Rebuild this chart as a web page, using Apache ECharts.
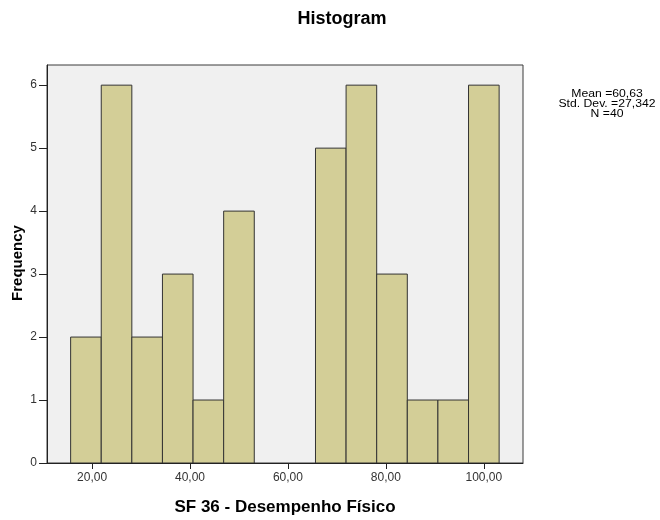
<!DOCTYPE html>
<html>
<head>
<meta charset="utf-8">
<script src="https://cdn.jsdelivr.net/npm/echarts@6/dist/echarts.min.js"></script>
<style>
  html, body { margin: 0; padding: 0; background: #fff; }
  #chart { width: 660px; height: 520px; }
</style>
</head>
<body>
<div id="chart"></div>
<script>
// Histogram bins: centre of each bin and its count
const binCenters = [18.75, 25, 31.25, 37.5, 43.75, 50, 56.25, 62.5, 68.75, 75, 81.25, 87.5, 93.75, 100];
const binWidth = 6.25;
const frequencies = [2, 6, 2, 3, 1, 4, 0, 0, 5, 6, 3, 1, 1, 6];

const xTicks = [20, 40, 60, 80, 100];
const yTicks = [0, 1, 2, 3, 4, 5, 6];
const statsLines = ['Mean =60,63', 'Std. Dev. =27,342', 'N =40'];

const FONT = '"Liberation Sans", Arial, sans-serif';

// [low edge, high edge, count] for non-empty bins
const barData = [];
binCenters.forEach((c, i) => {
  if (frequencies[i] > 0) {
    barData.push([c - binWidth / 2, c + binWidth / 2, frequencies[i]]);
  }
});

const fmt = v => v.toFixed(2).replace('.', ',');

const chart = echarts.init(document.getElementById('chart'), null, { renderer: 'canvas' });

chart.setOption({
  animation: false,
  backgroundColor: '#ffffff',
  graphic: [
    {
      type: 'text', x: 342, y: 19,
      style: {
        text: 'Histogram',
        font: 'bold 18px ' + FONT,
        fill: '#000', textAlign: 'center', textVerticalAlign: 'middle'
      }
    },
    {
      type: 'text', x: 285, y: 507,
      style: {
        text: 'SF 36 - Desempenho Físico',
        font: 'bold 17px ' + FONT,
        fill: '#000', textAlign: 'center', textVerticalAlign: 'middle'
      }
    },
    {
      type: 'text', x: 18, y: 263, rotation: Math.PI / 2,
      style: {
        text: 'Frequency',
        font: 'bold 15px ' + FONT,
        fill: '#000', textAlign: 'center', textVerticalAlign: 'middle'
      }
    }
  ].concat(statsLines.map((t, i) => ({
    type: 'text', x: 607, y: 94 + i * 10.3, scaleX: 1.22,
    style: {
      text: t,
      font: '10px ' + FONT,
      fill: '#000', textAlign: 'center', textVerticalAlign: 'middle'
    }
  }))),
  grid: {
    left: 47, right: 137, top: 65, bottom: 57,
    show: true,
    backgroundColor: '#f0f0f0',
    borderColor: '#3a3a3a',
    borderWidth: 1
  },
  xAxis: {
    type: 'value',
    min: 10.8,
    max: 108.0,
    splitLine: { show: false },
    axisLine: { show: true, lineStyle: { color: '#222', width: 1 } },
    axisTick: { show: true, inside: false, length: 6, customValues: xTicks, lineStyle: { color: '#222' } },
    axisLabel: {
      customValues: xTicks,
      formatter: v => fmt(v),
      fontFamily: FONT, fontSize: 12, color: '#333', margin: 9
    }
  },
  yAxis: {
    type: 'value',
    min: 0,
    max: 6.32,
    splitLine: { show: false },
    axisLine: { show: true, lineStyle: { color: '#222', width: 1 } },
    axisTick: { show: true, inside: false, length: 8, customValues: yTicks, lineStyle: { color: '#222' } },
    axisLabel: {
      customValues: yTicks,
      fontFamily: FONT, fontSize: 12, color: '#333', margin: 10
    }
  },
  series: [{
    type: 'custom',
    data: barData,
    encode: { x: [0, 1], y: 2 },
    clip: true,
    renderItem: (params, api) => {
      const lo = api.coord([api.value(0), api.value(2)]);
      const hi = api.coord([api.value(1), 0]);
      return {
        type: 'rect',
        shape: { x: lo[0], y: lo[1], width: hi[0] - lo[0], height: hi[1] - lo[1] },
        style: { fill: '#d3ce97', stroke: '#333333', lineWidth: 1 }
      };
    }
  }]
});
</script>
</body>
</html>
